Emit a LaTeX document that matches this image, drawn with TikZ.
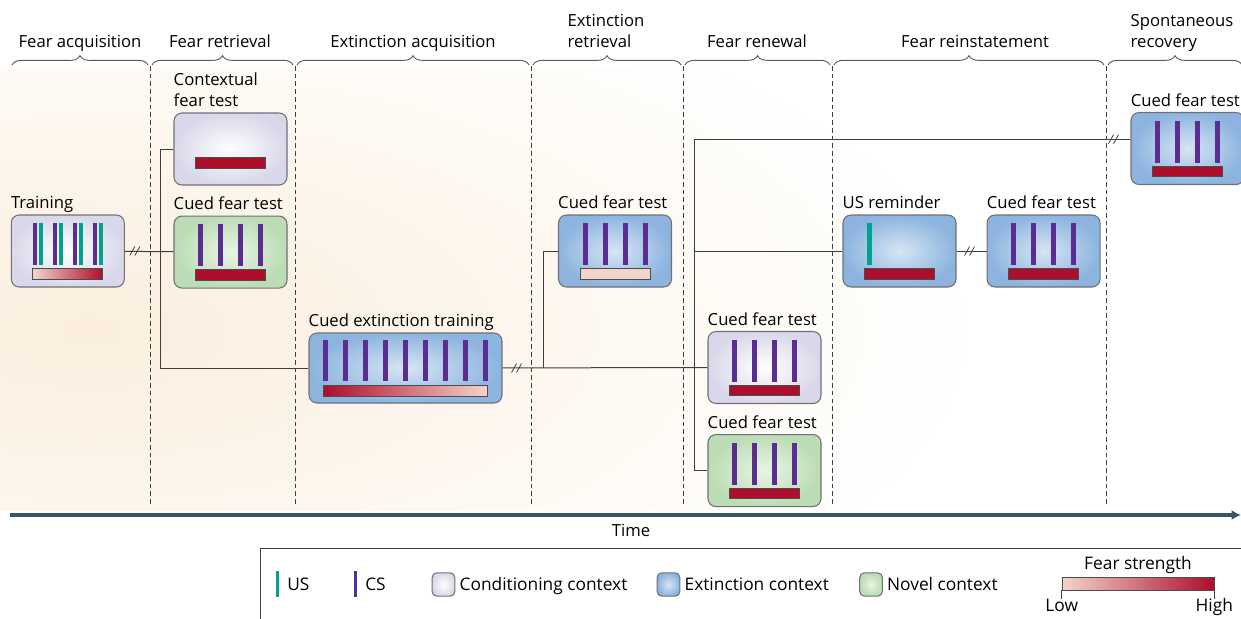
\documentclass[tikz,border=0pt]{standalone}
\usepackage{fontspec}
\setmainfont{Open Sans}
\usetikzlibrary{positioning}
\usetikzlibrary{calc, arrows.meta, decorations.pathreplacing}

\definecolor{csc}{HTML}{5B2D90}
\definecolor{usc}{HTML}{00A28F}
\definecolor{hic}{HTML}{AD0E2B}
\definecolor{loc}{HTML}{F3D4CB}
\definecolor{condout}{HTML}{D8D8EA}
\definecolor{extin}{HTML}{D7E5F5}
\definecolor{extout}{HTML}{8CB4DE}
\definecolor{novin}{HTML}{E9F4E6}
\definecolor{novout}{HTML}{BBDCB4}
\definecolor{boxline}{HTML}{707078}
\definecolor{wire}{HTML}{3F3F3F}
\definecolor{timec}{HTML}{3E5566}
\definecolor{glow}{HTML}{FBEEDD}

\tikzset{brk/.pic={\draw[wire, line width=0.6pt] (-7,4.5) -- (-2,-4.5) (-2,4.5) -- (3,-4.5);}}

\begin{document}
\begin{tikzpicture}
[
	x=0.75pt, y=-0.75pt,
	node distance = 22.5pt,
	font=\fontsize{12.5}{16}\selectfont,
	ctx/.style={draw=boxline, line width=0.8pt, rounded corners=6pt, inner sep=0pt, minimum width=84.75pt, minimum height=54pt},
	cond/.style={ctx, inner color=white, outer color=condout},
	ext/.style={ctx, inner color=extin, outer color=extout},
	nov/.style={ctx, inner color=novin, outer color=novout},
	lbl/.style={inner sep=0pt, text depth=0pt, align=left, above right=4pt and 0pt of #1},
	phase/.style={draw=wire!85, line width=0.7pt, decorate, decoration={brace, amplitude=7pt}},
	phaselbl/.style={inner sep=0pt, text depth=0pt, anchor=south, align=left},
	sep/.style={draw=wire, line width=0.6pt, dash pattern=on 3.5pt off 2.3pt},
	conn/.style={draw=wire, line width=0.75pt},
	cs/.style={fill=csc},
	us/.style={fill=usc},
	hibar/.style={fill=hic, draw=black!70, line width=0.5pt},
	lobar/.style={fill=loc, draw=black!70, line width=0.5pt},
	up/.style={left color=loc, right color=hic, draw=black!70, line width=0.5pt},
	down/.style={left color=hic, right color=loc, draw=black!70, line width=0.5pt},
	timeline/.style={draw=timec, line width=3pt, -{Latex[length=7pt,width=7.5pt]}},
	legtxt/.style={inner sep=0pt, anchor=west, text height=9.5pt, text depth=3pt, font=\fontsize{13}{15}\selectfont},
	swatch/.style={minimum width=17pt, minimum height=17.5pt, rounded corners=3.5pt}
]
	\useasboundingbox (0,0) rectangle (1241,618);

	\begin{scope}
		\clip (0,68) rectangle (1241,510);
		\shade[inner color=glow, outer color=white] (90,330) ellipse (900 and 380);
	\end{scope}

	\foreach \a/\b in {12/148, 152/293, 297/529, 533/681, 685/830, 834/1104, 1108/1242}
		\draw[phase] (\a,65) -- (\b,65);
	\node[phaselbl] (pAcq) at (80,48) {Fear acquisition};
	\node[phaselbl] (pRet) at (220,48) {Fear retrieval};
	\node[phaselbl] (pExtAcq) at (413,48) {Extinction acquisition};
	\node[phaselbl] (pExtRet) at (606,48) {Extinction\\retrieval};
	\node[phaselbl] (pRen) at (757,48) {Fear renewal};
	\node[phaselbl] (pRein) at (975,48) {Fear reinstatement};
	\node[phaselbl] (pSpont) at (1182,48) {Spontaneous\\recovery};

	\foreach \x in {150,295,531,683,832,1106}
		\draw[sep] (\x,66) -- (\x,505);

	\node[cond] (train) at (67.8,251) {};
	\node[lbl=train.north west] {Training};
	\node[cond] (ctxt) at (230.5,149) {};
	\node[lbl=ctxt.north west] {Contextual\\fear test};
	\node[nov, below=of ctxt] (retr) {};
	\node[lbl=retr.north west] {Cued fear test};
	\node[ext, minimum width=144.75pt, minimum height=52.5pt] (extr) at (405.5,368) {};
	\node[lbl=extr.north west] {Cued extinction training};
	\node[ext] (extret) at (615,251) {};
	\node[lbl=extret.north west] {Cued fear test};
	\node[cond] (rencond) at (764.5,367.5) {};
	\node[lbl=rencond.north west] {Cued fear test};
	\node[nov, below=of rencond] (rennov) {};
	\node[lbl=rennov.north west] {Cued fear test};
	\node[ext] (usrem) at (899.5,251) {};
	\node[lbl=usrem.north west] {US reminder};
	\node[ext, right=of usrem] (reinst) {};
	\node[lbl=reinst.north west] {Cued fear test};
	\node[ext] (spont) at (1187.5,148.5) {};
	\node[lbl=spont.north west] {Cued fear test};

	\foreach \d in {-30,-10,10,30} {
		\fill[cs] ($(train.center)+(\d-5,-28)$) rectangle ++(4,42);
		\fill[us] ($(train.center)+(\d+1,-28)$) rectangle ++(4.5,42);
	}
	\shadedraw[up] ($(train.center)+(-35,17)$) rectangle ++(70,11);

	\foreach \b in {retr,extret,rencond,rennov,reinst,spont}
		\foreach \d in {-30,-10,10,30}
			\fill[cs] ($(\b.center)+(\d-2.5,-28)$) rectangle ++(5,42);
	\foreach \b in {retr,rencond,rennov,usrem,reinst,spont}
		\draw[hibar] ($(\b.center)+(-35,17.5)$) rectangle ++(70,10.5);
	\draw[hibar] ($(ctxt.center)+(-35,8)$) rectangle ++(70,11);
	\draw[lobar] ($(extret.center)+(-35,17.5)$) rectangle ++(70,11);
	\fill[us] ($(usrem.center)+(-32.5,-28)$) rectangle ++(5,42);

	\foreach \d in {-80,-60,...,80}
		\fill[cs] ($(extr.center)+(\d-2.5,-28)$) rectangle ++(5,41);
	\shadedraw[down] ($(extr.center)+(-82,17)$) rectangle ++(164,11);

	\draw[conn] (train) -- (retr);
	\pic at ($(train.east)+(12,0)$) {brk};
	\coordinate (j1) at ($(train.east)!0.74!(retr.west)$);
	\draw[conn] (ctxt.west) -| (j1) |- (extr.west);

	\draw[conn] (extr) -- (rencond);
	\pic at ($(extr.east)+(16,0)$) {brk};
	\coordinate (j2) at ($(extr.east)!0.2!(rencond.west)$);
	\draw[conn] (extret.west) -| (j2);

	\coordinate (j3) at ([xshift=-9.75pt]rencond.west);
	\draw[conn] ([yshift=7pt]spont.west) -| (j3) |- (rennov.west);
	\pic at ($(spont.west)+(-15,-9.33)$) {brk};
	\draw[conn] (j3 |- usrem.west) -- (usrem);
	\draw[conn] (usrem) -- (reinst);
	\pic at ($(usrem.east)!0.5!(reinst.west)$) {brk};

	\coordinate (t0) at (10,515);
	\coordinate (t1) at (1241,515);
	\draw[timeline] (t0) -- (t1);
	\node (time) at (631,530) {Time};

	\draw[conn, line width=0.6pt] (1241,548) -| (260,619);
	\fill[us] (275.5,571) rectangle ++(3.5,26);
	\node[legtxt] (lUS) at (287,586) {US};
	\fill[cs] (353.5,571) rectangle ++(3.5,26);
	\node[legtxt] (lCS) at (365,586) {CS};
	\node[cond, swatch] (sCond) at (443.5,584.5) {};
	\node[legtxt, right=3pt of sCond, yshift=-1.5pt] {Conditioning context};
	\node[ext, swatch] (sExt) at (668.5,584.5) {};
	\node[legtxt, right=3pt of sExt, yshift=-1.5pt] {Extinction context};
	\node[nov, swatch] (sNov) at (871,584.5) {};
	\node[legtxt, right=3pt of sNov, yshift=-1.5pt] {Novel context};

	\node[up, inner sep=0pt, minimum width=114pt, minimum height=9.75pt] (fbar) at (1138,583.5) {};
	\node[legtxt, anchor=south, above=2pt of fbar] {Fear strength};
	\draw[conn, line width=0.6pt] (fbar.south west) -- ++(0,9);
	\draw[conn, line width=0.6pt] (fbar.south east) -- ++(0,9);
	\node[legtxt, below=6.5pt of fbar.south west] {Low};
	\node[legtxt, below=6.5pt of fbar.south east] {High};
\end{tikzpicture}
\end{document}
